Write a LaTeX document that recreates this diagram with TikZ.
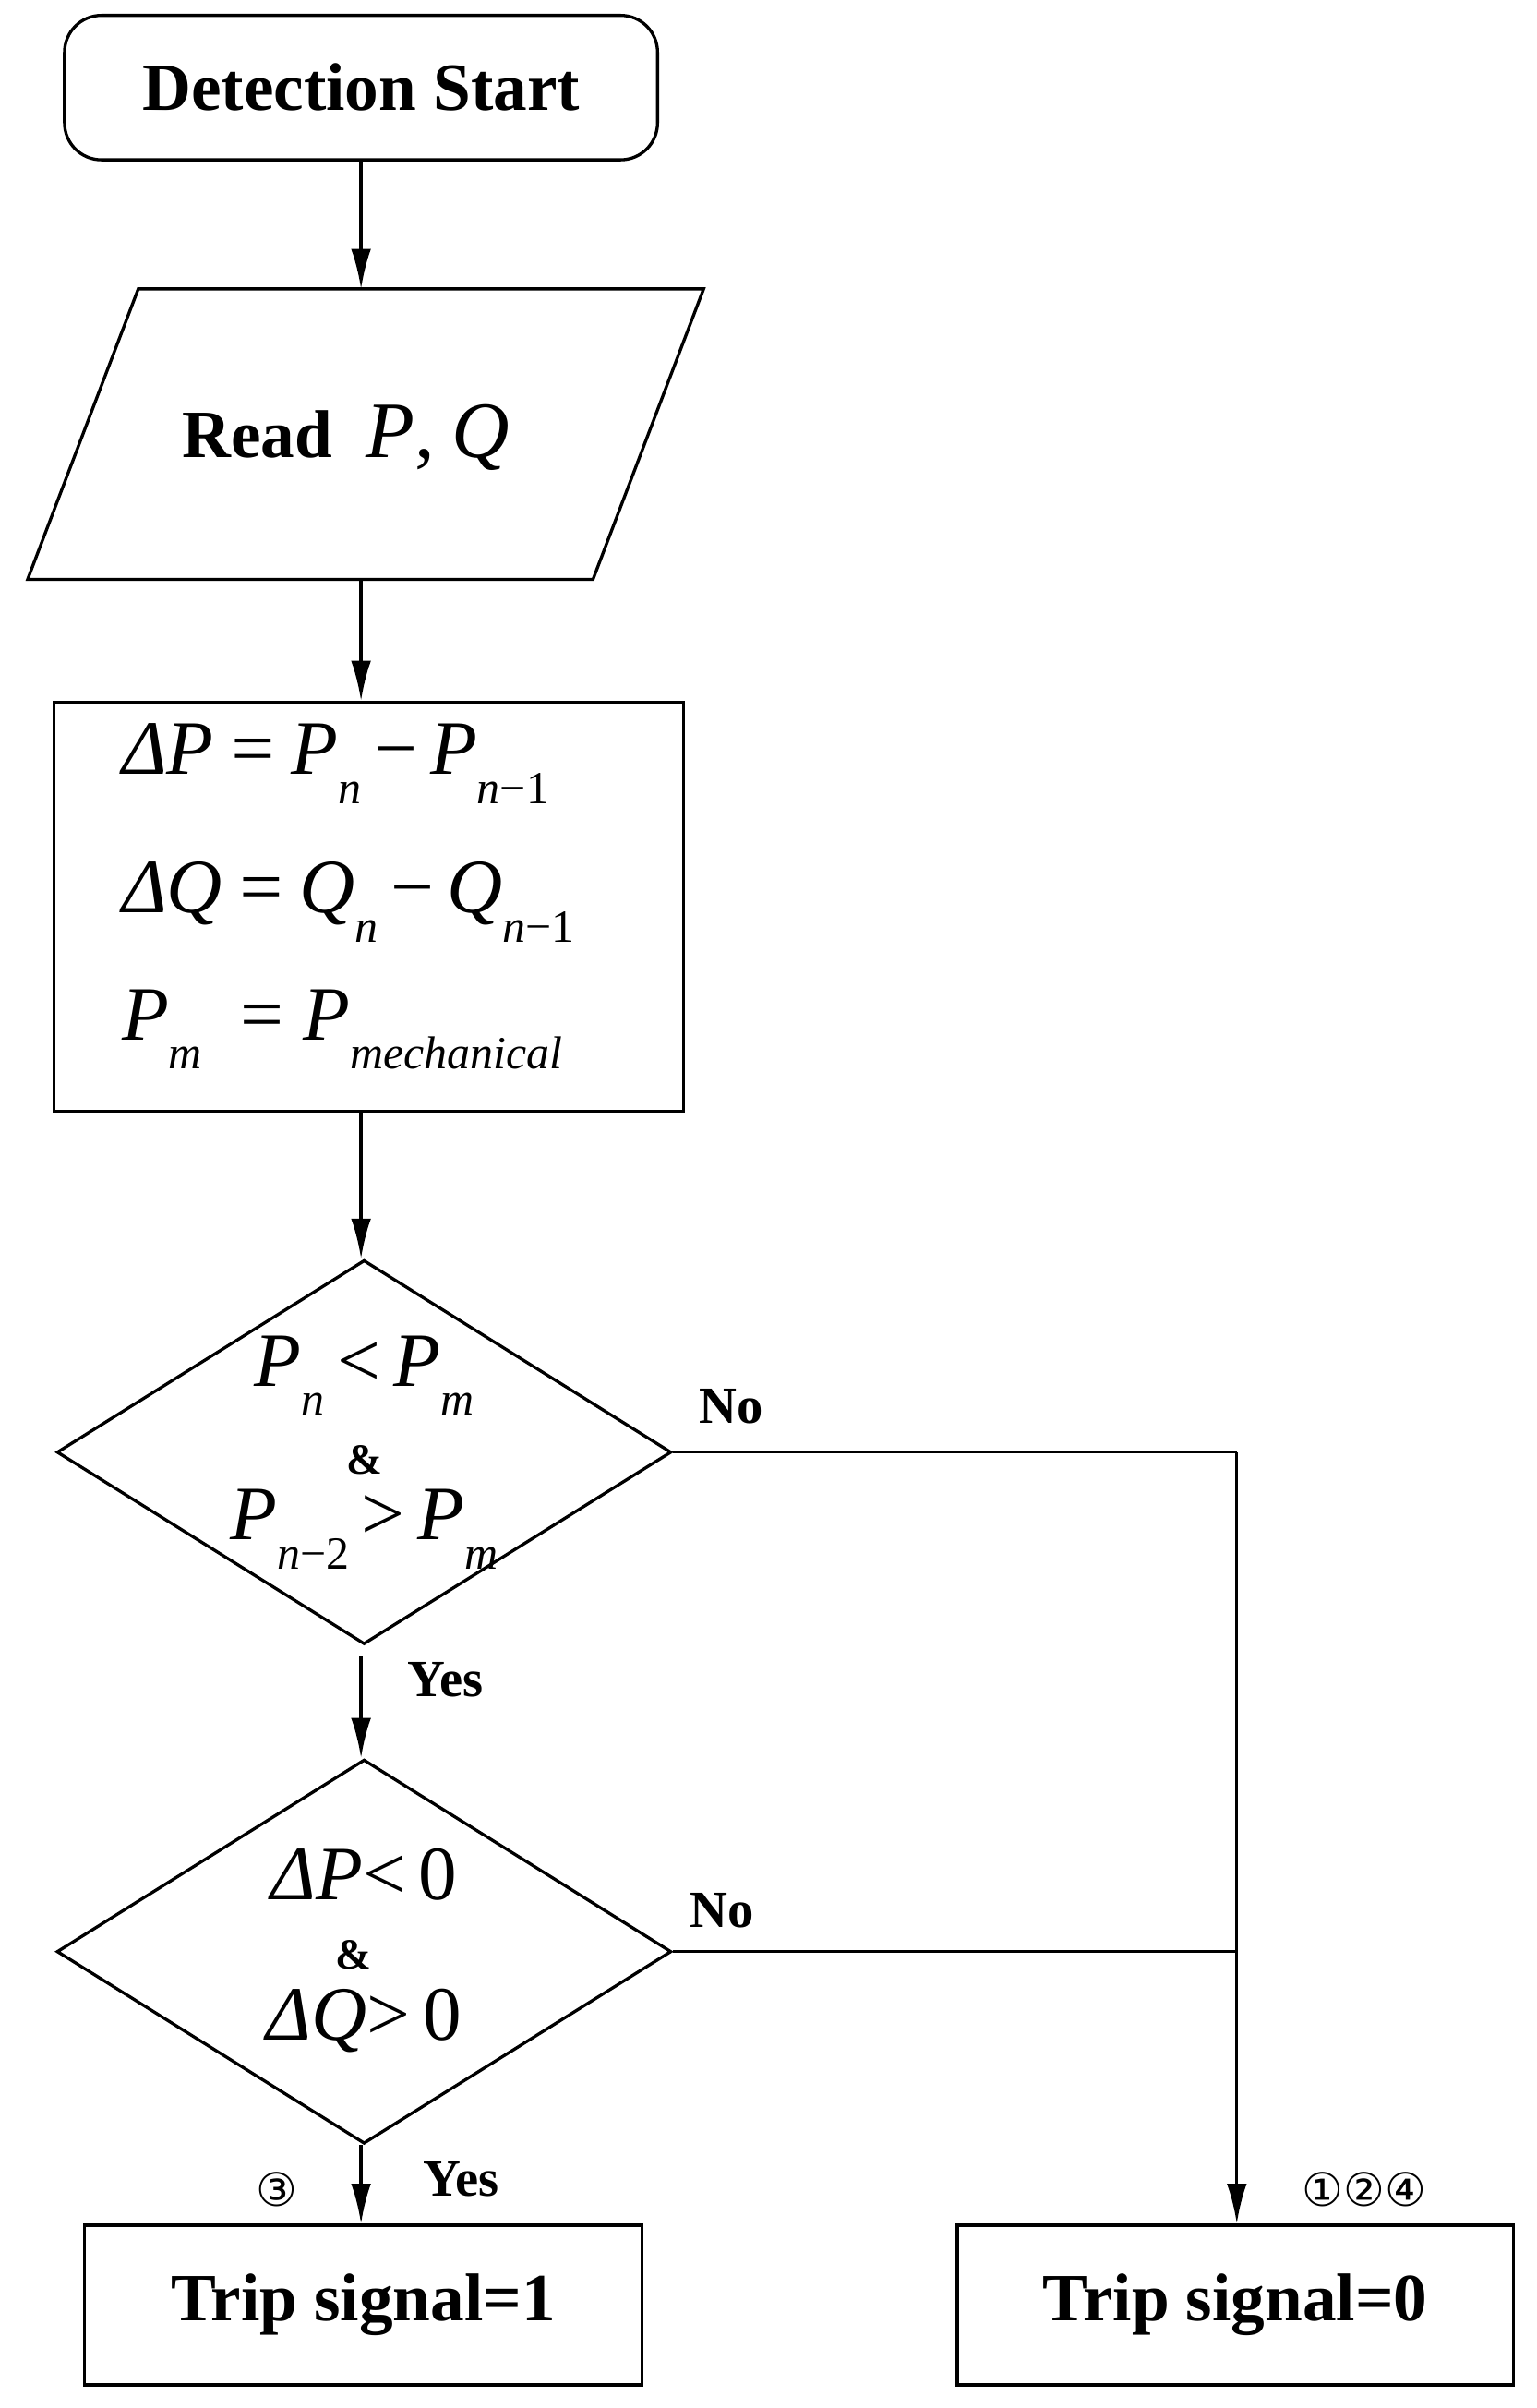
\documentclass[tikz,border=0pt]{standalone}
\usepackage{fontspec}
\setmainfont{Liberation Serif}
\newfontfamily\circfont{DejaVu Sans}
\usetikzlibrary{arrows.meta,shapes.geometric}
\newcommand{\ms}[1]{\raisebox{-0.38em}{\fontsize{30}{30}\selectfont\itshape #1}}
\begin{document}
\begin{tikzpicture}[x=1pt,y=-1pt,line width=2pt,
  arr/.style={-{Latex[length=26pt,width=13pt]}},
  bt/.style={font=\fontsize{44}{48}\selectfont\bfseries},
  lbl/.style={font=\fontsize{34}{36}\selectfont\bfseries},
  mt/.style={font=\fontsize{50}{56}\selectfont\itshape},
  box/.style={draw,line width=2pt}]
\useasboundingbox (0,0) rectangle (1000,1567);
\node[box,rounded corners=24pt,minimum width=386pt,minimum height=94pt,bt] (start) at (235,57) {Detection Start};
\draw[box] (90,188) -- (458,188) -- (386,377) -- (18,377) -- cycle;
\coordinate (parT) at (235,188); \coordinate (parB) at (235,377);
\node[bt,anchor=center] (read) at (225,285) {Read \ {\mdseries\itshape\fontsize{52}{56}\selectfont P}{\mdseries\fontsize{52}{56}\selectfont,} {\mdseries\itshape\fontsize{52}{56}\selectfont Q}};
\node[box,minimum width=410pt,minimum height=266pt] (calc) at (240,590) {};
\node[mt,anchor=west] (e1) at (75,497) {ΔP\,=\,P\ms{n}\,\upshape −\,\itshape P\ms{n\upshape −1}};
\node[mt,anchor=west] (e2) at (75,587) {ΔQ\,=\,Q\ms{n}\,\upshape −\,\itshape Q\ms{n\upshape −1}};
\node[mt,anchor=west] (e3) at (75,670) {P\ms{m}\ \ \upshape =\ \itshape P\ms{mechanical}};
\node[box,diamond,aspect=1.6,minimum width=400pt,minimum height=250pt,inner sep=0pt] (d1) at (237,945) {};
\node[mt] (d1a) at (237,895) {P\ms{n}\,\upshape <\,\itshape P\ms{m}};
\node[font=\fontsize{28}{28}\selectfont\bfseries] (amp1) at (237,950) {\&};
\node[mt] (d1b) at (237,995) {P\ms{n\upshape −2}\,\upshape >\,\itshape P\ms{m}};
\node[box,diamond,aspect=1.6,minimum width=400pt,minimum height=250pt,inner sep=0pt] (d2) at (237,1270) {};
\node[mt] (d2a) at (237,1220) {ΔP\upshape <\,0};
\node[font=\fontsize{28}{28}\selectfont\bfseries] (amp2) at (230,1272) {\&};
\node[mt] (d2b) at (237,1315) {ΔQ\upshape >\,0};
\node[box,minimum width=363pt,minimum height=104pt,bt] (t1) at (236.5,1500) {Trip signal=1};
\node[box,minimum width=362pt,minimum height=104pt,bt] (t0) at (804,1500) {Trip signal=0};
\coordinate (j1) at (805,945); \coordinate (j2) at (805,1270);
\coordinate (y1) at (235,1078);
\draw[arr] (start.south) -- (parT);
\draw[arr] (parB) -- (calc.north -| parB);
\draw[arr] (calc.south -| parB) -- (d1.north -| parB);
\draw[arr] (y1) -- (d2.north -| y1);
\draw[arr] (d2.south -| y1) -- (t1.north -| y1);
\draw (d1.east) -- (j1);
\draw[arr] (j1) -- (t0.north -| j1);
\draw (d2.east) -- (j2);
\node[lbl] (no1) at (476,915) {No};
\node[lbl] (no2) at (470,1243) {No};
\node[lbl] (yes1) at (290,1093) {Yes};
\node[lbl] (yes2) at (300,1418) {Yes};
\node[font=\circfont\fontsize{30}{30}\selectfont] (c3) at (180,1425) {③};
\node[font=\circfont\fontsize{30}{30}\selectfont] (c124) at (888,1425) {①②④};
\end{tikzpicture}
\end{document}
